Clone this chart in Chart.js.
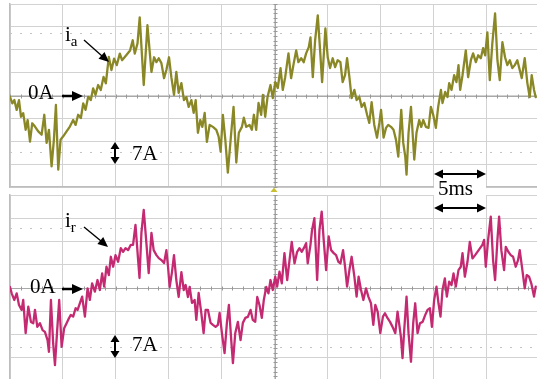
<!DOCTYPE html>
<html>
<head>
<meta charset="utf-8">
<script src="https://cdn.jsdelivr.net/npm/chart.js@4/dist/chart.umd.min.js"></script>
<style>
  html, body { margin:0; padding:0; width:537px; height:379px; overflow:hidden; background:#fff; }
  #wrap { position:relative; width:537px; height:379px; overflow:hidden; }
  canvas { position:absolute; left:0; }
  .lbl { position:absolute; font-family:"Liberation Serif","Times New Roman",serif; font-size:21px; line-height:21px; color:#000; white-space:nowrap; z-index:5; }
  .lbl sub { font-size:15px; vertical-align:-5px; line-height:0; }
  #box5 { position:absolute; left:434px; top:182px; width:52px; height:19px; background:#fff; z-index:3; }
  svg { position:absolute; left:0; top:0; z-index:4; }
</style>
</head>
<body>
<div id="wrap">
  <canvas id="cTop" width="545" height="192" style="top:0px"></canvas>
  <canvas id="cBot" width="545" height="196" style="top:190px"></canvas>
  <div id="box5"></div>
  <svg width="537" height="379" viewBox="0 0 537 379">
    <g fill="#000" stroke="#000">
      <line x1="62" y1="96" x2="74" y2="96" stroke-width="2.5"/>
      <polygon points="72,91 83,96 72,101" stroke="none"/>
      <line x1="62" y1="289" x2="74" y2="289" stroke-width="2.5"/>
      <polygon points="72,284 83,289 72,294" stroke="none"/>
      <line x1="84" y1="40" x2="102" y2="56" stroke-width="1.4"/>
      <polygon points="109,62 98.5,58.8 104.5,52" stroke="none"/>
      <line x1="84" y1="227" x2="101" y2="241" stroke-width="1.4"/>
      <polygon points="108,247 97.4,244.1 103.2,237.1" stroke="none"/>
      <line x1="115" y1="148" x2="115" y2="158" stroke-width="2"/>
      <polygon points="115,142 110.5,149 119.5,149" stroke="none"/>
      <polygon points="115,164 110.5,157 119.5,157" stroke="none"/>
      <line x1="115" y1="341" x2="115" y2="352" stroke-width="2"/>
      <polygon points="115,335 110.5,342 119.5,342" stroke="none"/>
      <polygon points="115,358 110.5,351 119.5,351" stroke="none"/>
      <line x1="442" y1="174" x2="478" y2="174" stroke-width="2"/>
      <polygon points="434,174 443,169.5 443,178.5" stroke="none"/>
      <polygon points="486,174 477,169.5 477,178.5" stroke="none"/>
      <line x1="442" y1="208" x2="478" y2="208" stroke-width="2"/>
      <polygon points="434,208 443,203.5 443,212.5" stroke="none"/>
      <polygon points="486,208 477,203.5 477,212.5" stroke="none"/>
    </g>
    <polygon points="274,187.5 270.5,192 277.5,192" fill="#c8c030"/>
  </svg>
  <div class="lbl" style="left:65px; top:24px;">i<sub>a</sub></div>
  <div class="lbl" style="left:28px; top:82px;">0A</div>
  <div class="lbl" style="left:132px; top:143px;">7A</div>
  <div class="lbl" style="left:438px; top:178px;">5ms</div>
  <div class="lbl" style="left:65px; top:210px;">i<sub>r</sub></div>
  <div class="lbl" style="left:30px; top:276px;">0A</div>
  <div class="lbl" style="left:132px; top:334px;">7A</div>
</div>
<script>
// time axis (ms), 5 ms per division
const timeTicks = [0,5,10,15,20,25,30,35,40,45,50];
// current axis (A), 7 A per division
const ampTicks = [-28,-21,-14,-7,0,7,14,21,28];

// Phase current i_a (top trace)
const tA = [0,0.22,0.41,0.63,0.85,1.04,1.25,1.48,1.67,1.89,
2.10,2.36,2.67,2.99,3.24,3.46,3.68,3.93,4.15,4.34,
4.56,4.78,5.03,5.35,5.66,5.97,6.20,6.44,6.70,6.92,
7.14,7.39,7.64,7.86,8.08,8.33,8.58,8.84,9.06,9.34,
9.59,9.84,10.09,10.38,10.59,10.85,11.10,11.35,11.60,11.79,
12.05,12.26,12.64,12.99,13.37,13.62,13.84,14.06,14.31,14.56,
14.78,15.03,15.25,15.50,15.72,15.94,16.20,16.44,16.67,16.89,
17.14,17.36,17.55,17.76,17.99,18.18,18.40,18.61,18.87,19.18,
19.50,19.72,19.91,20.12,20.35,20.59,20.91,21.13,21.39,21.63,
21.92,22.10,22.33,22.64,22.86,23.05,23.27,23.49,23.74,23.90,
24.12,24.34,24.62,24.84,25.07,25.31,25.57,25.78,26.01,26.32,
26.57,26.82,27.05,27.26,27.52,27.76,27.99,28.24,28.40,28.62,
28.84,29.09,29.31,29.50,29.81,30.03,30.25,30.50,30.73,30.97,
31.23,31.44,31.67,31.86,32.08,32.29,32.55,32.76,33.02,33.24,
33.49,33.75,33.96,34.18,34.43,34.69,34.91,35.07,35.31,35.54,
35.75,36.01,36.25,36.48,36.70,36.98,37.17,37.36,37.48,37.67,
37.90,38.21,38.42,38.68,38.87,39.06,39.31,39.56,39.78,40.00,
40.25,40.47,40.73,40.88,41.13,41.35,41.51,41.73,41.98,42.20,
42.39,42.55,42.77,43.08,43.30,43.56,43.77,44.03,44.25,44.50,
44.72,44.91,45.12,45.35,45.59,45.85,46.07,46.29,46.54,46.79,
47.01,47.24,47.48,47.71,47.95,48.18,48.37,48.65,48.90,49.12,
49.31,49.53,49.69];
const iA = [-0.4,-2.4,-1.4,-4.4,-1.4,-6.5,-5.4,-10.5,-7.5,-14.1,
-8.5,-9.5,-11.0,-12.0,-5.9,-14.5,-10.5,-21.7,-13.5,-2.9,
-22.7,-13.5,-12.5,-11.0,-9.5,-7.5,-9.0,-5.9,-6.9,-2.4,
-4.4,-0.4,-1.4,2.2,0.2,3.2,1.7,5.7,3.7,11.8,
7.8,11.3,9.3,12.8,10.8,11.8,12.8,13.8,16.9,12.8,
15.9,23.9,3.2,21.5,7.2,11.7,10.2,11.4,9.9,5.3,
7.8,11.7,5.6,0.2,7.2,0.8,3.8,-1.4,-0.5,-3.5,
-1.4,-5.3,-1.4,-11.4,-7.5,-9.6,-5.3,-14.2,-9.0,-9.6,
-10.5,-12.6,-17.2,-5.9,-13.5,-23.6,-11.4,-3.5,-20.5,-11.4,
-9.6,-6.8,-9.6,-9.0,-10.5,-5.9,-10.5,-2.3,-5.9,0.2,
-6.5,-0.5,3.2,-0.8,4.1,2.3,8.4,1.7,5.6,12.9,
5.3,9.9,13.8,10.2,11.4,10.2,12.9,14.8,17.8,5.6,
16.9,24.5,13.8,4.1,20.5,11.7,8.4,11.4,8.7,10.8,
10.2,4.1,6.2,11.4,5.6,-0.8,1.7,-1.4,-0.5,-3.5,
-2.3,-5.9,-8.4,-2.0,-9.0,-12.9,-8.4,-4.4,-12.9,-9.9,
-9.0,-9.6,-10.5,-13.5,-18.7,-4.4,-14.5,-18.7,-24.2,-11.4,
-3.5,-19.6,-11.4,-7.5,-9.6,-7.5,-9.6,-9.9,-3.5,-5.9,
-9.9,-3.5,1.7,-2.3,1.1,-0.5,3.8,1.7,6.2,4.1,
9.3,1.7,6.2,13.8,5.6,10.8,12.9,10.2,12.3,11.4,
14.5,12.3,19.3,4.7,16.0,25.1,10.8,4.7,16.3,11.7,
9.3,10.8,8.4,9.3,10.8,7.8,5.3,11.4,3.8,-0.5,
6.2,1.7,-0.5];

// Current i_r (bottom trace)
const tR = [0,0.16,0.41,0.63,0.85,1.10,1.25,1.48,1.73,1.98,
2.20,2.36,2.58,2.83,3.08,3.30,3.55,3.68,3.87,4.08,
4.25,4.46,4.65,4.88,5.12,5.35,5.57,5.75,5.97,6.20,
6.39,6.60,6.82,7.08,7.33,7.55,7.76,8.02,8.27,8.49,
8.71,8.90,9.12,9.34,9.53,9.75,9.97,10.22,10.47,10.69,
10.92,11.16,11.42,11.63,11.86,12.11,12.24,12.42,12.64,12.89,
13.11,13.37,13.58,13.84,14.06,14.31,14.56,14.78,14.94,15.09,
15.31,15.50,15.72,15.94,16.20,16.42,16.60,16.82,16.98,17.20,
17.45,17.61,17.83,18.08,18.30,18.49,18.71,18.96,19.18,19.43,
19.65,19.81,20.03,20.28,20.50,20.69,20.91,21.07,21.29,21.54,
21.79,22.01,22.24,22.48,22.74,22.95,23.18,23.37,23.58,23.80,
23.99,24.22,24.43,24.62,24.84,25.07,25.25,25.47,25.69,25.94,
26.20,26.42,26.63,26.89,27.14,27.36,27.58,27.77,27.99,28.14,
28.40,28.55,28.77,29.03,29.25,29.46,29.65,29.88,30.12,30.35,
30.60,30.82,31.04,31.23,31.48,31.67,31.86,32.08,32.29,32.55,
32.76,32.95,33.18,33.40,33.65,33.87,34.12,34.34,34.53,34.75,
35.00,35.25,35.44,35.69,35.92,36.16,36.42,36.63,36.95,37.10,
37.26,37.48,37.67,37.90,38.11,38.30,38.52,38.75,39.00,39.25,
39.46,39.69,39.88,40.09,40.31,40.50,40.69,40.88,41.10,41.29,
41.51,41.73,41.92,42.14,42.39,42.61,42.77,42.99,43.24,43.46,
43.71,43.96,44.18,44.43,44.65,44.81,44.97,45.19,45.44,45.66,
45.85,46.07,46.23,46.44,46.70,46.86,47.10,47.33,47.55,47.80,
48.02,48.18,48.43,48.65,48.84,49.06,49.27,49.53,49.69];
const iR = [0.3,-1.6,-3.6,-1.6,-5.1,-6.6,-3.6,-13.6,-5.6,-10.2,
-10.6,-6.6,-11.7,-10.6,-12.7,-13.2,-15.7,-19.2,-3.6,-16.7,
-23.2,-12.7,-3.6,-17.7,-12.1,-10.6,-9.1,-8.1,-8.6,-6.1,
-6.6,-4.6,-2.6,-8.6,-0.1,-3.6,1.4,-1.1,2.4,-0.6,
4.4,0.4,6.4,3.9,9.4,6.4,9.9,7.9,12.0,10.9,
12.0,11.4,13.0,13.0,19.0,8.4,3.0,16.6,23.5,13.6,
4.5,16.6,11.4,9.9,9.0,8.4,7.5,11.4,6.3,0.3,
4.8,9.9,2.4,-2.7,4.8,-0.6,0.9,-2.7,0.3,-4.5,
-3.6,-9.6,-1.5,-7.5,-13.6,-6.6,-6.6,-10.5,-11.1,-11.7,
-11.1,-7.5,-13.6,-19.6,-10.5,-5.1,-15.7,-22.6,-13.6,-10.2,
-15.7,-10.5,-9.0,-8.7,-6.6,-9.6,-10.2,-2.7,-5.1,-9.0,
-3.6,0.3,-1.6,2.4,-0.6,3.4,0.4,4.9,1.4,10.5,
2.4,8.4,13.9,7.4,10.9,12.0,10.9,12.0,13.5,7.4,
13.0,17.5,21.0,2.4,17.5,23.0,14.5,5.4,15.5,11.4,
10.5,9.9,7.9,7.4,11.4,6.4,0.4,5.4,9.4,3.4,
-2.6,3.4,-0.6,-3.6,-0.1,-2.6,-4.6,-11.1,-5.1,-7.1,
-13.6,-8.6,-7.6,-9.1,-10.2,-11.7,-13.6,-7.1,-14.7,-21.1,
-12.7,-2.6,-13.6,-22.2,-10.6,-4.6,-13.6,-10.6,-10.2,-8.1,
-6.6,-6.1,-11.7,-3.6,0.4,-4.6,-8.6,-0.6,2.9,-2.6,
1.9,0.9,4.4,0.4,5.4,6.4,10.5,3.4,7.9,13.9,
8.9,9.9,10.9,12.0,13.0,14.5,6.4,14.5,21.5,8.4,
2.4,14.5,21.5,11.4,5.4,12.4,10.9,9.9,9.4,6.4,
8.4,11.4,5.4,-0.1,3.9,3.4,1.4,-2.6,0.4];

// cursor (dotted) levels, A
const cursorsTop = [19.0, -17.2];
const cursorsBot = [18.1, -17.8];

const scopeDecor = {
  id: 'scopeDecor',
  beforeDatasetsDraw(chart, args, opts) {
    const {ctx, chartArea: a, scales: {x, y}} = chart;
    ctx.save();
    ctx.strokeStyle = '#c4c4c4';
    ctx.lineWidth = 1;
    ctx.setLineDash([2, 8]);
    (opts.cursors || []).forEach(v => {
      const py = Math.round(y.getPixelForValue(v)) + 0.5;
      ctx.beginPath(); ctx.moveTo(a.left, py); ctx.lineTo(a.right, py); ctx.stroke();
    });
    ctx.setLineDash([]);
    const y0 = Math.round(y.getPixelForValue(0)) + 0.5;
    const xc = Math.round(x.getPixelForValue(25)) + 0.5;
    ctx.strokeStyle = '#a8a8a8';
    ctx.beginPath(); ctx.moveTo(a.left, y0); ctx.lineTo(a.right, y0); ctx.stroke();
    ctx.beginPath(); ctx.moveTo(xc, a.top); ctx.lineTo(xc, a.bottom); ctx.stroke();
    ctx.strokeStyle = '#999';
    for (let t = 0; t <= 50; t += 1) {
      const px = Math.round(x.getPixelForValue(t)) + 0.5;
      ctx.beginPath(); ctx.moveTo(px, y0 - 2); ctx.lineTo(px, y0 + 2); ctx.stroke();
    }
    for (let v = -28; v <= 28.01; v += 1.4) {
      const py = Math.round(y.getPixelForValue(v)) + 0.5;
      ctx.beginPath(); ctx.moveTo(xc - 2, py); ctx.lineTo(xc + 2, py); ctx.stroke();
    }
    ctx.restore();
  }
};

function makeScope(id, tArr, iArr, color, cursors, pad) {
  const n = Math.min(tArr.length, iArr.length);
  const pts = [];
  for (let k = 0; k < n; k++) pts.push({x: tArr[k], y: iArr[k]});
  return new Chart(document.getElementById(id), {
    type: 'line',
    data: { datasets: [{ data: pts, borderColor: color, borderWidth: 2.3, borderJoinStyle: 'round', borderCapStyle: 'round', pointRadius: 0, tension: 0, fill: false }] },
    options: {
      responsive: false, animation: false, devicePixelRatio: 1,
      layout: { padding: pad },
      plugins: { legend: { display: false }, tooltip: { enabled: false }, scopeDecor: { cursors } },
      scales: {
        x: { type: 'linear', min: timeTicks[0], max: timeTicks[timeTicks.length - 1],
             afterBuildTicks: s => { s.ticks = timeTicks.map(v => ({value: v})); },
             ticks: { display: false },
             grid: { color: '#d2d2d2', lineWidth: 1, drawTicks: false },
             border: { display: true, color: '#bdbdbd', width: 1.5 } },
        y: { type: 'linear', min: ampTicks[0], max: ampTicks[ampTicks.length - 1],
             afterBuildTicks: s => { s.ticks = ampTicks.map(v => ({value: v})); },
             ticks: { display: false },
             grid: { color: '#d2d2d2', lineWidth: 1, drawTicks: false },
             border: { display: true, color: '#bdbdbd', width: 1.5 } }
      }
    },
    plugins: [scopeDecor]
  });
}

makeScope('cTop', tA, iA, '#8a8826', cursorsTop, {left: 10, top: 4, right: 6, bottom: 5});
makeScope('cBot', tR, iR, '#c42a72', cursorsBot, {left: 10, top: 5, right: 6, bottom: 5});
</script>
</body>
</html>
